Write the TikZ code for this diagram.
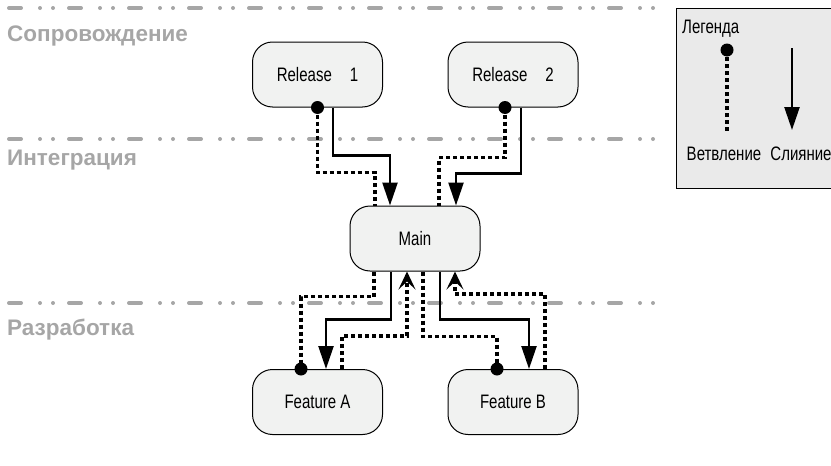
\documentclass[tikz,border=0pt]{standalone}
\usepackage{fontspec}
\setmainfont{Liberation Sans}
\newfontfamily\narrowfont[FakeStretch=0.77]{Liberation Sans}
\usepackage{tikz}
\usetikzlibrary{positioning,arrows.meta}
\usepackage{xcolor}
\definecolor{lanegray}{HTML}{A6A6A6}
\definecolor{boxfill}{HTML}{F1F2F1}
\definecolor{legendfill}{HTML}{EAEAEA}

\begin{document}
\begin{tikzpicture}[x=1pt,y=-1pt,
  lane/.style={lanegray,line width=4pt,line cap=round,dash pattern=on 12pt off 19pt on 0pt off 13pt on 0pt off 16pt},
  lanelabel/.style={anchor=base west,inner sep=0pt,text=lanegray,font=\fontsize{22.5}{26}\selectfont\bfseries},
  branchbox/.style={draw,fill=boxfill,rounded corners=20pt,minimum width=130pt,minimum height=65pt,line width=1pt,font=\narrowfont\fontsize{19.5}{23}\selectfont},
  legtext/.style={inner sep=0pt,font=\narrowfont\fontsize{19.5}{23}\selectfont},
  merge/.style={line width=2.4pt,-{Triangle[length=23pt,width=15pt]}},
  branch/.style={line width=3.5pt,dash pattern=on 4pt off 3pt},
  backmerge/.style={branch,-{Stealth[open,length=18pt,width=17pt,inset=8pt,line width=3pt]}}]
\useasboundingbox (0,0) rectangle (831,466);

% lanes
\draw[lane] (9,8) -- (655,8);
\draw[lane] (9,139) -- (655,139);
\draw[lane] (9,303) -- (655,303);
\node[lanelabel] (support) at (7,41) {Сопровождение};
\node[lanelabel] (integr) at (7,165) {Интеграция};
\node[lanelabel] (devel) at (7,335) {Разработка};

% branches
\node[branchbox] (rel1) at (317.5,74.5) {Release\hspace{18pt}1};
\node[branchbox] (rel2) at (513,74.5) {Release\hspace{18pt}2};
\node[branchbox] (main) at (415,238.5) {Main};
\node[branchbox] (feaA) at (317.5,402) {Feature A};
\node[branchbox] (feaB) at (513,402) {Feature B};

% release -> main
\draw[branch] (rel1.south) -- ++(0,65) -| ([xshift=-40pt]main.north);
\fill (rel1.south) circle (6.5);
\draw[merge] ([xshift=15.5pt]rel1.south) -- ++(0,48) -| ([xshift=-25pt]main.north);
\draw[branch] ([xshift=-8pt]rel2.south) -- ++(0,50) -| ([xshift=24pt]main.north);
\fill ([xshift=-8pt]rel2.south) circle (6.5);
\draw[merge] ([xshift=8pt]rel2.south) -- ++(0,66) -| ([xshift=41pt]main.north);

% main -> features
\draw[branch] ([xshift=-41pt]main.south) -- ++(0,25) -| ([xshift=-16.5pt]feaA.north);
\fill ([xshift=-16.5pt]feaA.north) circle (6.5);
\draw[merge] ([xshift=-24pt]main.south) -- ++(0,48) -| ([xshift=8.5pt]feaA.north);
\draw[backmerge] ([xshift=24.5pt]feaA.north) -- ++(0,-33) -| ([xshift=-8pt]main.south);
\draw[branch] ([xshift=8pt]main.south) -- ++(0,65) -| ([xshift=-16pt]feaB.north);
\fill ([xshift=-16pt]feaB.north) circle (6.5);
\draw[merge] ([xshift=25pt]main.south) -- ++(0,48) -| ([xshift=16pt]feaB.north);
\draw[backmerge] ([xshift=32pt]feaB.north) -- ++(0,-75) -| ([xshift=40pt]main.south);

% legend
\filldraw[fill=legendfill,line width=1pt] (676,8) rectangle (840,188);
\node[legtext,anchor=base west] (legtitle) at (682,33) {Легенда};
\coordinate (bstart) at (727,50);
\coordinate (bend) at (727,132);
\draw[branch] (bstart) -- (bend);
\fill (bstart) circle (6.5);
\coordinate (mstart) at (792,48);
\coordinate (mend) at (792,130);
\draw[merge] (mstart) -- (mend);
\node[legtext,anchor=base] (legbranch) at (724,160) {Ветвление};
\node[legtext,anchor=base] (legmerge) at (801,160) {Слияние};
\end{tikzpicture}
\end{document}
